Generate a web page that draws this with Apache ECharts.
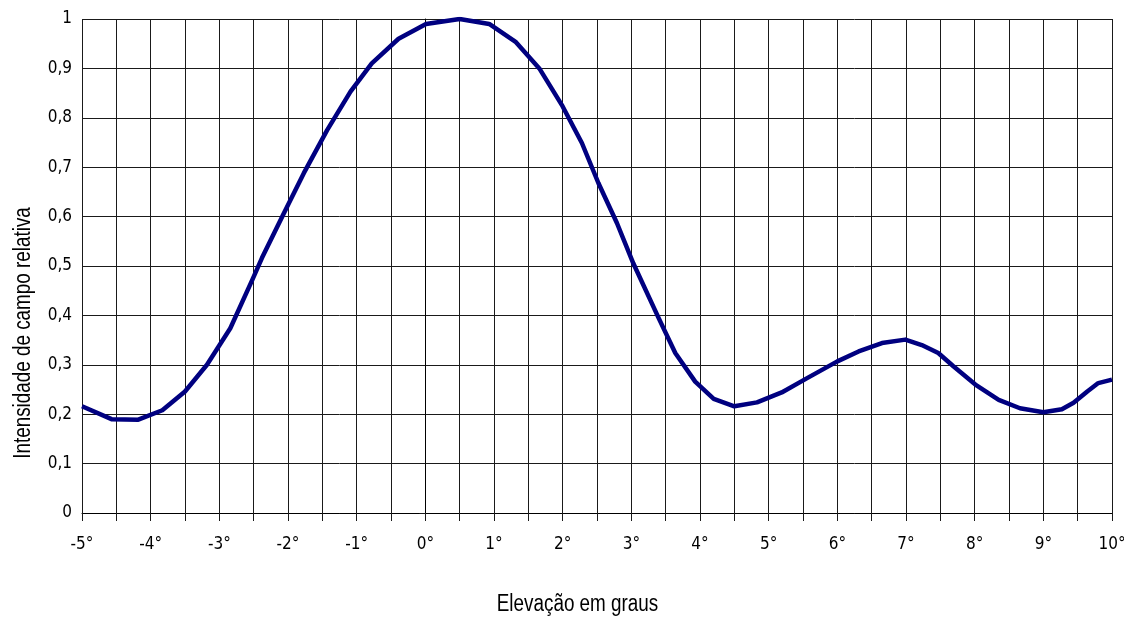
<!DOCTYPE html>
<html>
<head>
<meta charset="utf-8">
<script src="https://cdn.jsdelivr.net/npm/echarts@6/dist/echarts.min.js"></script>
<style>
html,body{margin:0;padding:0;background:#fff;}
#chart{width:1124px;height:621px;}
</style>
</head>
<body>
<div id="chart"></div>
<script>
// Elevation (degrees) and relative field intensity
const elevation = [-5, -4.57, -4.18, -3.83, -3.5, -3.18, -2.84, -2.52, -2.38, -2.06, -1.77, -1.43, -1.09, -0.78, -0.39, 0.01, 0.5, 0.93, 1.32, 1.66, 2.0, 2.28, 2.52, 2.79, 3.03, 3.4, 3.64, 3.93, 4.2, 4.5, 4.83, 5.19, 5.56, 6.0, 6.31, 6.65, 6.99, 7.23, 7.47, 7.69, 8.01, 8.35, 8.66, 9.0, 9.27, 9.44, 9.64, 9.8, 10];
const intensity = [0.216, 0.190, 0.189, 0.208, 0.246, 0.300, 0.374, 0.472, 0.516, 0.607, 0.688, 0.775, 0.853, 0.910, 0.960, 0.990, 1.0, 0.990, 0.953, 0.900, 0.823, 0.749, 0.668, 0.587, 0.505, 0.394, 0.324, 0.266, 0.231, 0.216, 0.224, 0.244, 0.273, 0.307, 0.327, 0.344, 0.351, 0.340, 0.324, 0.297, 0.260, 0.229, 0.212, 0.204, 0.210, 0.223, 0.246, 0.263, 0.270];
const xAxisTitle = 'Elevação em graus';
const yAxisTitle = 'Intensidade de campo relativa';

const points = elevation.map((x, i) => [x, intensity[i]]);
const labelFont = "'DejaVu Sans Condensed', 'DejaVu Sans', sans-serif";
const nameFont = "'Liberation Sans', Arial, sans-serif";
const gridColor = '#1a1a1a';

const chart = echarts.init(document.getElementById('chart'), null, {renderer: 'canvas'});
chart.setOption({
  animation: false,
  backgroundColor: '#ffffff',
  grid: {left: 82, right: 12, top: 19, bottom: 108, containLabel: false, outerBoundsMode: 'none'},
  xAxis: {
    type: 'value', min: -5, max: 10, interval: 0.5,
    axisLine: {show: true, onZero: false, lineStyle: {color: '#000', width: 1}},
    axisTick: {show: true, length: 8, inside: false, lineStyle: {color: gridColor}},
    axisLabel: {
      margin: 23, fontFamily: labelFont, fontSize: 17, color: '#000',
      formatter: v => (Math.abs(v - Math.round(v)) < 1e-9 ? Math.round(v) + '°' : '')
    },
    splitLine: {show: true, lineStyle: {color: gridColor, width: 1}}
  },
  yAxis: {
    type: 'value', min: 0, max: 1, interval: 0.1,
    axisLine: {show: true, lineStyle: {color: '#000', width: 1}},
    axisTick: {show: true, length: 6, lineStyle: {color: gridColor}},
    axisLabel: {
      margin: 10, fontFamily: labelFont, fontSize: 17, color: '#000',
      formatter: v => {
        const r = Math.round(v * 10) / 10;
        if (r === 0) return '0';
        if (r === 1) return '1';
        return r.toFixed(1).replace('.', ',');
      }
    },
    splitLine: {show: true, lineStyle: {color: gridColor, width: 1}}
  },
  graphic: [
    {
      type: 'text', x: 577.5, y: 605, scaleX: 0.82,
      style: {text: xAxisTitle, font: '23px ' + nameFont, fill: '#000', textAlign: 'center', textVerticalAlign: 'middle'}
    },
    {
      type: 'text', x: 23.5, y: 333, rotation: Math.PI / 2, scaleX: 0.82,
      style: {text: yAxisTitle, font: '23px ' + nameFont, fill: '#000', textAlign: 'center', textVerticalAlign: 'middle'}
    }
  ],
  series: [{
    type: 'line', data: points, showSymbol: false, symbol: 'none', smooth: false,
    lineStyle: {color: '#000080', width: 4.5, join: 'round'},
    itemStyle: {color: '#000080'}
  }]
});
</script>
</body>
</html>
